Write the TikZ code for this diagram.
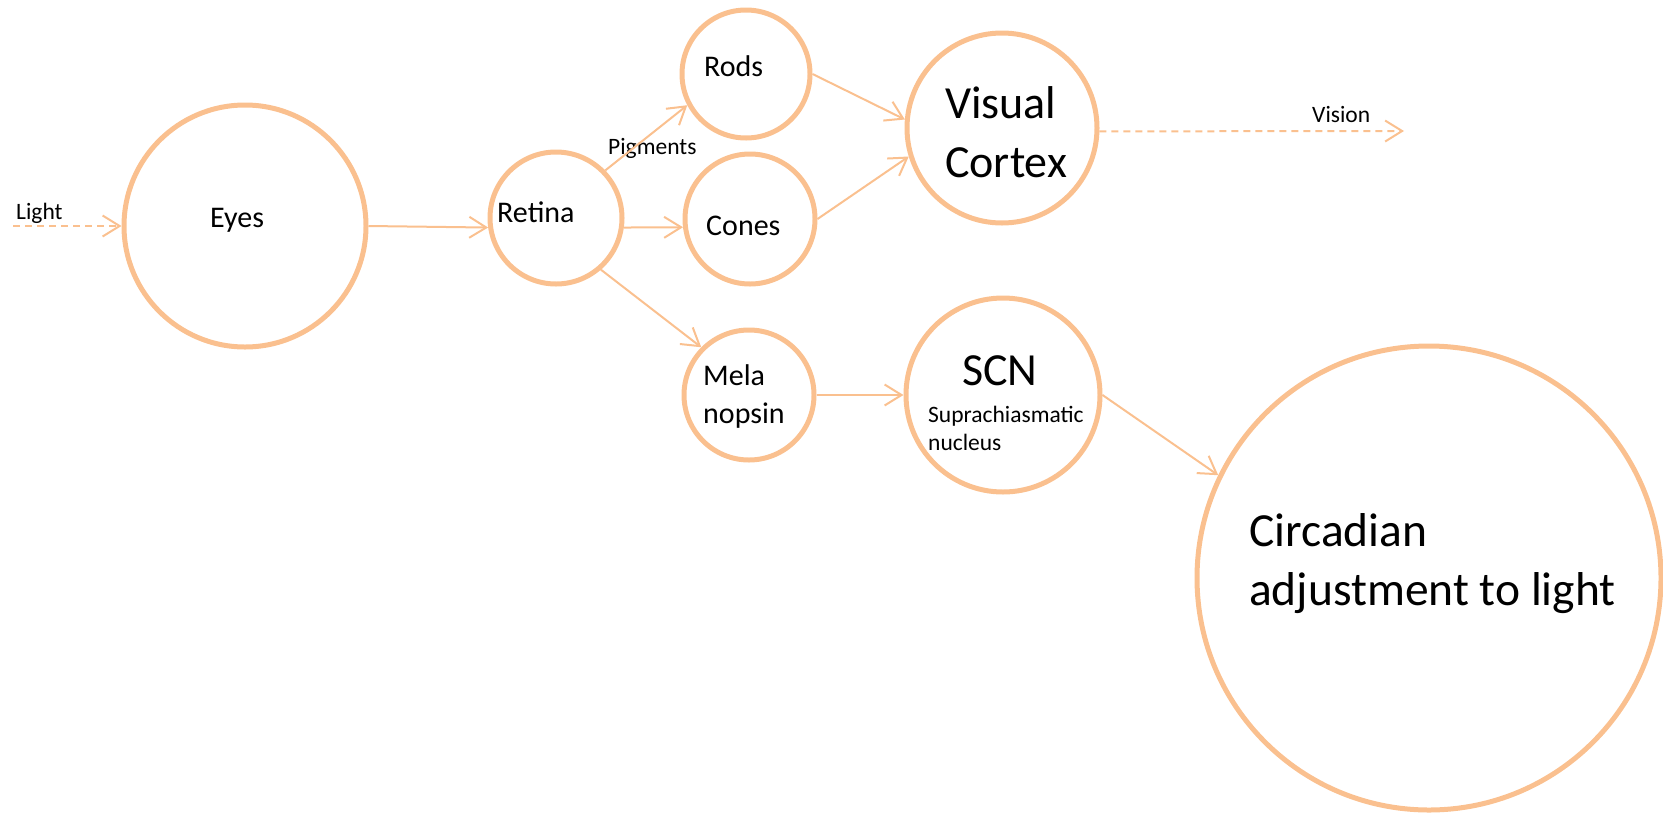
\documentclass[tikz,border=0pt]{standalone}
\usepackage{fontspec}
\setmainfont{Carlito}
\usetikzlibrary{arrows.meta}
\definecolor{peach}{RGB}{250,192,143}
\begin{document}
\begin{tikzpicture}[x=1pt,y=-1pt,
  ring/.style={circle, draw=peach, line width=5pt, inner sep=0pt},
  link/.style={draw=peach, line width=2pt, -{Straight Barb[length=17pt,width=21pt]}},
  dlink/.style={link, dash pattern=on 7pt off 5pt},
  txt/.style={inner sep=0pt, anchor=base west, text=black},
  fsmall/.style={font=\fontsize{23.5}{28}\selectfont},
  fmid/.style={font=\fontsize{30}{38}\selectfont},
  fbig/.style={font=\fontsize{46}{59}\selectfont},
  fhuge/.style={font=\fontsize{47.5}{59}\selectfont}]
\useasboundingbox (0,0) rectangle (1663,812);
% circles
\node[ring, minimum size=242pt] (eyes) at (245,226) {};
\node[ring, minimum size=132pt] (retina) at (556,218) {};
\node[ring, minimum size=128pt] (rods) at (746,74) {};
\node[ring, minimum size=130pt] (cones) at (750,219) {};
\node[ring, minimum size=130pt] (mela) at (749,395) {};
\node[ring, minimum size=190pt] (vc) at (1002,128) {};
\node[ring, minimum size=194pt] (scn) at (1003,395) {};
\node[ring, minimum size=464pt] (circ) at (1429,578) {};
% free ends
\coordinate (lightS) at (13,226);
\coordinate (visionE) at (1404,131);
% texts
\node[txt, fsmall] (tLight) at (16,219) {Light};
\node[txt, fmid] (tEyes) at (210,227) {Eyes};
\node[txt, fmid] (tRetina) at (497,222) {Retina};
\node[txt, fsmall] (tPig) at (608,154) {Pigments};
\node[txt, fmid] (tRods) at (704,76) {Rods};
\node[txt, fmid] (tCones) at (706,235) {Cones};
\node[txt, fbig] (tVis) at (945,118) {Visual};
\node[txt, fbig] (tCor) at (945,177) {Cortex};
\node[txt, fsmall] (tVision) at (1312,122) {Vision};
\node[txt, fmid] (tMela) at (703,385) {Mela};
\node[txt, fmid] (tNop) at (703,423) {nopsin};
\node[txt, fbig] (tSCN) at (962,385) {SCN};
\node[txt, fsmall] (tSup) at (928,422) {Suprachiasmatic};
\node[txt, fsmall] (tNuc) at (928,450) {nucleus};
\node[txt, fhuge] (tCirc) at (1249,546) {Circadian};
\node[txt, fhuge] (tAdj) at (1249,605) {adjustment to light};
% connectors
\draw[dlink] (lightS) -- (eyes.west);
\draw[link] (eyes.east) -- (retina.188);
\draw[link] (retina.44) -- (rods.208);
\draw[link] (retina.-8) -- (cones.187);
\draw[link] (retina.-49) -- (mela.135);
\draw[link] (rods.east) -- (vc.175);
\draw[link] (cones.east) -- (vc.197);
\draw[dlink] (vc.-2) -- (visionE);
\draw[link] (mela.east) -- (scn.west);
\draw[link] (scn.east) -- (circ.154);
\end{tikzpicture}
\end{document}
